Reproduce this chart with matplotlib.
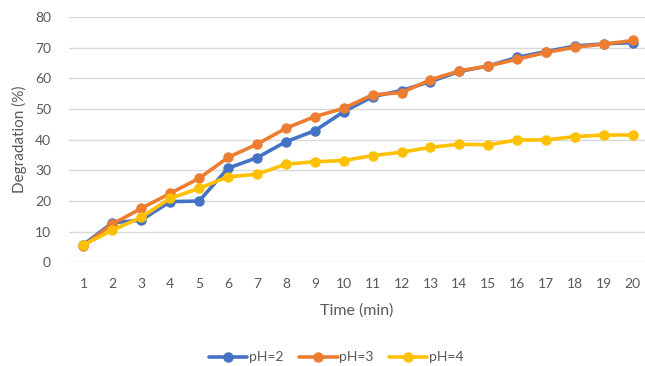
import numpy as np
import matplotlib.pyplot as plt

plt.rcParams['font.family'] = ['Lato', 'DejaVu Sans']

time_min = np.arange(1, 21)
ph2 = [5.8, 12.9, 13.8, 19.8, 20.0, 30.7, 34.1, 39.3, 42.9, 49.1,
       54.0, 56.0, 58.9, 62.2, 64.0, 66.8, 68.7, 70.5, 71.2, 71.6]
ph3 = [5.4, 12.5, 17.6, 22.5, 27.4, 34.2, 38.5, 43.7, 47.5, 50.2,
       54.6, 55.3, 59.5, 62.4, 64.0, 66.2, 68.4, 70.1, 71.1, 72.3]
ph4 = [5.7, 10.5, 14.7, 20.9, 24.1, 27.9, 28.7, 32.0, 32.8, 33.2,
       34.8, 35.9, 37.5, 38.5, 38.3, 39.9, 39.9, 41.0, 41.5, 41.5]

series = [("pH=2", ph2, "#4472C4"),
          ("pH=3", ph3, "#ED7D31"),
          ("pH=4", ph4, "#FFC000")]

fig = plt.figure(figsize=(6.45, 3.66), dpi=100)
ax = fig.add_axes([0.107, 0.283, 0.893, 0.671])

for name, vals, col in series:
    ax.plot(time_min, vals, color=col, lw=2.6, marker="o", ms=6.5,
            label=name, solid_capstyle="round")

ax.set_xlim(0.5, 20.42)
ax.set_ylim(0, 80)
ax.set_yticks(range(0, 81, 10))
ax.set_xticks(time_min)
ax.grid(axis="y", color="#D9D9D9", lw=1)
ax.set_axisbelow(True)
for s in ax.spines.values():
    s.set_visible(False)
ax.tick_params(length=0, colors="#595959", labelsize=10)
ax.tick_params(axis="y", pad=13)
ax.tick_params(axis="x", pad=11)

ax.set_xlabel("Time (min)", color="#595959", fontsize=11.5, labelpad=10)
ax.set_ylabel("Degradation (%)", color="#595959", fontsize=11, labelpad=6)

ax.legend(loc="center", bbox_to_anchor=(0.4635, -0.387), ncol=3,
          frameon=False, fontsize=10, labelcolor="#595959",
          handlelength=2.8, handletextpad=0.1, columnspacing=1.1)

fig.savefig("out.png", dpi=100)
